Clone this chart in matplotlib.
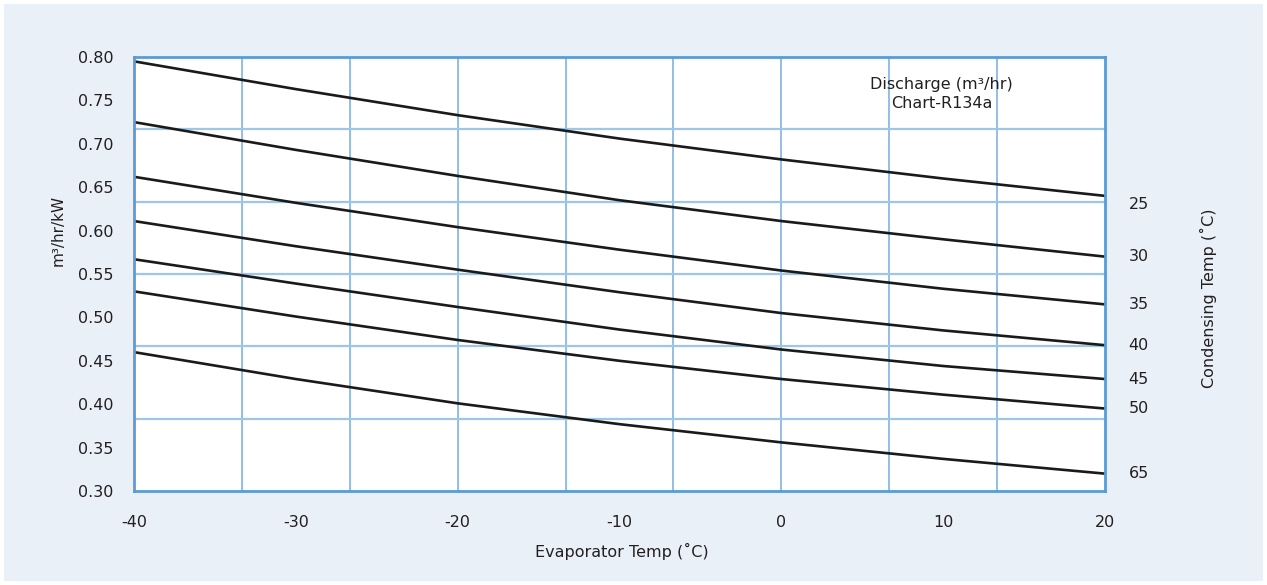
import matplotlib
matplotlib.use("Agg")
import matplotlib.pyplot as plt
from matplotlib.lines import Line2D
from matplotlib.patches import Rectangle

# ---- data ----
evap_temp = [-40, -30, -20, -10, 0, 10, 20]
cond_labels = ["25", "30", "35", "40", "45", "50", "65"]
c25 = [0.795, 0.763, 0.733, 0.706, 0.682, 0.660, 0.640]
c30 = [0.725, 0.693, 0.663, 0.635, 0.611, 0.590, 0.570]
c35 = [0.662, 0.632, 0.604, 0.578, 0.554, 0.533, 0.515]
c40 = [0.611, 0.582, 0.555, 0.529, 0.505, 0.485, 0.468]
c45 = [0.567, 0.539, 0.512, 0.486, 0.463, 0.444, 0.429]
c50 = [0.530, 0.501, 0.474, 0.450, 0.429, 0.411, 0.395]
c65 = [0.460, 0.429, 0.401, 0.377, 0.356, 0.337, 0.320]
series = [c25, c30, c35, c40, c45, c50, c65]
y_ticks = [0.30, 0.35, 0.40, 0.45, 0.50, 0.55, 0.60, 0.65, 0.70, 0.75, 0.80]
x_ticks = [-40, -30, -20, -10, 0, 10, 20]

W, H = 1267, 585
fig = plt.figure(figsize=(W / 100, H / 100), dpi=100, facecolor="white")
bg = "#e9f0f8"
fig.patches.append(Rectangle((4 / W, 4 / H), 1 - 8 / W, 1 - 8 / H,
                             transform=fig.transFigure, facecolor=bg,
                             edgecolor="none", zorder=-10))

font = "DejaVu Sans"
txtcol = "#231f20"
ax = fig.add_axes([134 / W, 1 - 491 / H, (1105 - 134) / W, (491 - 57) / H])
ax.set_facecolor("white")
ax.set_xlim(-40, 20)
ax.set_ylim(0.30, 0.80)

# decorative grid (equal divisions of the frame)
gcol = "#7fb3e2"
for i in range(1, 9):
    ax.add_line(Line2D([i / 9, i / 9], [0, 1], transform=ax.transAxes,
                       color=gcol, lw=1.2, zorder=1))
for j in range(1, 6):
    ax.add_line(Line2D([0, 1], [j / 6, j / 6], transform=ax.transAxes,
                       color="#9cc6ea", lw=1.6, zorder=1))

for s in series:
    ax.plot(evap_temp, s, color="#1a1a1a", lw=1.9, zorder=3,
            solid_capstyle="butt", solid_joinstyle="round", clip_on=False)

for sp in ax.spines.values():
    sp.set_color("#5b9bd5")
    sp.set_linewidth(2.0)
    sp.set_zorder(4)

ax.set_xticks(x_ticks)
ax.set_xticklabels([str(v) for v in x_ticks])
ax.set_yticks(y_ticks)
ax.set_yticklabels([f"{v:.2f}" for v in y_ticks])
ax.tick_params(length=0, labelsize=11.5, colors=txtcol)
ax.tick_params(axis="x", pad=17)
ax.tick_params(axis="y", pad=15)
for lab in ax.get_xticklabels() + ax.get_yticklabels():
    lab.set_family(font)

# condensing temperature labels at right
for s, lab in zip(series, cond_labels):
    ax.annotate(lab, xy=(1.0, s[-1]), xycoords=("axes fraction", "data"),
                xytext=(17, -6 if lab == "25" else 0), textcoords="offset points",
                ha="left", va="center", fontsize=11.5, color=txtcol, family=font)

fig.text(1208 / W, 1 - 298 / H, "Condensing Temp (˚C)", rotation=90,
         ha="center", va="center", fontsize=11.5, color=txtcol, family=font)
fig.text(58 / W, 1 - 230 / H, "m³/hr/kW", rotation=90,
         ha="center", va="center", fontsize=11, color=txtcol, family=font)
fig.text(622 / W, 1 - 551 / H, "Evaporator Temp (˚C)",
         ha="center", va="center", fontsize=11.5, color=txtcol, family=font)
ax.text(0.832, 1 - (94 - 57) / (491 - 57),
        "Discharge (m³/hr)\nChart-R134a", transform=ax.transAxes,
        ha="center", va="center", fontsize=11.5, color=txtcol, family=font,
        linespacing=1.35, zorder=5)

fig.savefig("out.png", dpi=100, facecolor="white")
